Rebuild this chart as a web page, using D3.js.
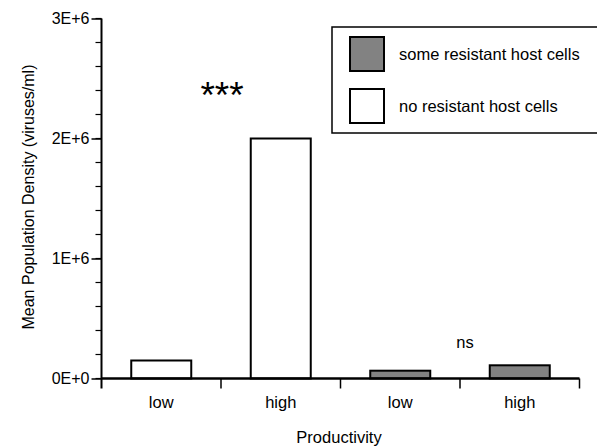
<!DOCTYPE html>
<html>
<head>
<meta charset="utf-8">
<script src="https://cdn.jsdelivr.net/npm/d3@7"></script>
<style>
body{margin:0;background:#fff;}
text{font-family:"Liberation Sans",Arial,Helvetica,sans-serif;fill:#000;}
</style>
</head>
<body>
<svg id="chart" width="597" height="448"></svg>
<script>
const categories = ["low", "high", "low", "high"];
const values = [150000, 2000000, 65000, 110000];
const groups = ["no resistant host cells", "no resistant host cells", "some resistant host cells", "some resistant host cells"];
const legendLabels = ["some resistant host cells", "no resistant host cells"];
const yTicks = [0, 1000000, 2000000, 3000000];
const yTickLabels = ["0E+0", "1E+6", "2E+6", "3E+6"];
const annotations = [{label: "***", index: 1}, {label: "ns", index: 3}];

(function () {
const colors = {"some resistant host cells": "#828282", "no resistant host cells": "#ffffff"};
const svg = d3.select("#chart");
const mL = 101.5, mR = 579.5, mT = 18.5, mB = 378.5;
const fs = 16.5;

const x = d3.scaleBand().domain(d3.range(categories.length)).range([mL, mR]).paddingInner(0).paddingOuter(0);
const y = d3.scaleLinear().domain([0, 3000000]).range([mB, mT]);

// minor ticks
const minor = d3.range(0, 3000001, 200000);
svg.append("g").selectAll("line").data(minor).join("line")
  .attr("x1", mL - 6).attr("x2", mL).attr("y1", d => y(d)).attr("y2", d => y(d))
  .attr("stroke", "#000").attr("stroke-width", 1.2);

// y axis
const yAxis = d3.axisLeft(y).tickValues(yTicks).tickFormat((d, i) => yTickLabels[i]).tickSize(10).tickPadding(2);
const gy = svg.append("g").attr("transform", `translate(${mL},0)`).call(yAxis);
gy.select(".domain").remove();
gy.selectAll(".tick line").attr("stroke", "#000").attr("stroke-width", 1.5);
gy.selectAll(".tick text").attr("font-size", 16).style("font-family", "Liberation Sans, Arial, sans-serif").attr("fill", "#000");
svg.append("line").attr("x1", mL).attr("x2", mL).attr("y1", mT).attr("y2", mB + 10)
  .attr("stroke", "#000").attr("stroke-width", 2);

// bars
const bw = 60;
svg.append("g").selectAll("rect").data(values).join("rect")
  .attr("x", (d, i) => x(i) + x.bandwidth() / 2 - bw / 2)
  .attr("width", bw)
  .attr("y", d => y(d))
  .attr("height", d => y(0) - y(d))
  .attr("fill", (d, i) => colors[groups[i]])
  .attr("stroke", "#000").attr("stroke-width", 2);

// x axis
svg.append("line").attr("x1", mL).attr("x2", mR).attr("y1", mB).attr("y2", mB)
  .attr("stroke", "#000").attr("stroke-width", 2.5);
const tickXs = d3.range(categories.length + 1).map(i => mL + i * x.step());
svg.append("g").selectAll("line").data(tickXs.slice(1)).join("line")
  .attr("x1", d => d).attr("x2", d => d).attr("y1", mB).attr("y2", mB + 10)
  .attr("stroke", "#000").attr("stroke-width", 1.5);
svg.append("g").selectAll("text").data(categories).join("text")
  .attr("x", (d, i) => x(i) + x.bandwidth() / 2).attr("y", 408)
  .attr("text-anchor", "middle").attr("font-size", fs).text(d => d);

// axis titles
svg.append("text").attr("x", 339).attr("y", 443).attr("text-anchor", "middle").attr("font-size", fs).text("Productivity");
svg.append("text").attr("transform", "translate(34,197) rotate(-90)").attr("text-anchor", "middle")
  .attr("font-size", 16).text("Mean Population Density (viruses/ml)");

// annotations
svg.append("text").attr("x", x(annotations[0].index) + 1).attr("y", 108).attr("text-anchor", "middle")
  .attr("font-size", 37).text(annotations[0].label);
svg.append("text").attr("x", 465).attr("y", 348).attr("text-anchor", "middle")
  .attr("font-size", fs).text(annotations[1].label);

// legend
const lg = svg.append("g");
lg.append("rect").attr("x", 332).attr("y", 27).attr("width", 270).attr("height", 106)
  .attr("fill", "#fff").attr("stroke", "#000").attr("stroke-width", 1.5);
legendLabels.forEach((lab, i) => {
  const yy = 37 + i * 52;
  lg.append("rect").attr("x", 350).attr("y", yy).attr("width", 34).attr("height", 34)
    .attr("fill", colors[lab]).attr("stroke", "#000").attr("stroke-width", 2);
  lg.append("text").attr("x", 399).attr("y", yy + 23).attr("font-size", fs).text(lab);
});
})();
</script>
</body>
</html>
